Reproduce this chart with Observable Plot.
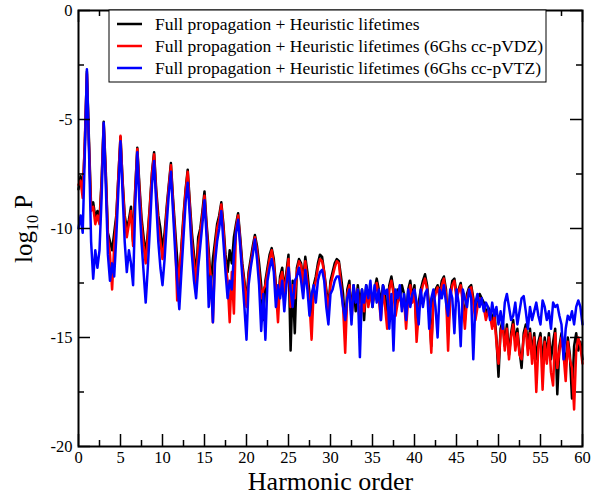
<!DOCTYPE html>
<html><head><meta charset="utf-8">
<script src="https://cdn.jsdelivr.net/npm/d3@7"></script>
<script src="https://cdn.jsdelivr.net/npm/@observablehq/plot@0.6"></script>
<style>body{margin:0;background:#fff}</style>
</head><body><div id="chart"></div>
<script>
// harmonic order sampled every 0.25 from 0 to 60
const step = 0.25;
const seriesNames = [
  "Full propagation + Heuristic lifetimes",
  "Full propagation + Heuristic lifetimes (6Ghs cc-pVDZ)",
  "Full propagation + Heuristic lifetimes (6Ghs cc-pVTZ)"
];
const seriesColors = ["#000000", "#ff0000", "#0000ff"];
const black = [
-8.2,-7.6,-8.4,-6.2,-2.8,-6.0,-9.0,-8.8,-9.5,-9.2,-9.6,-7.8,-5.1,-7.4,-10.2,-10.6,-11.0,-10.2,-9.4,-7.6,-5.8,
-7.8,-9.4,-10.0,-9.6,-9.0,-10.6,-8.2,-6.3,-8.0,-9.5,-10.4,-11.2,-10.2,-8.9,-7.4,-6.5,-8.2,-9.4,-10.0,-11.0,
-10.2,-9.0,-8.0,-7.0,-8.6,-10.0,-11.4,-12.8,-10.8,-9.4,-8.2,-7.3,-8.8,-10.2,-11.2,-12.2,-10.4,-10.0,-9.2,-8.3,
-9.8,-11.0,-12.6,-11.4,-10.6,-9.8,-9.4,-8.8,-9.8,-11.2,-12.0,-11.0,-11.6,-10.4,-9.8,-9.3,-10.4,-11.6,-12.4,-13.4,
-12.0,-11.4,-10.8,-10.3,-10.8,-11.6,-12.6,-14.2,-12.4,-11.8,-11.2,-10.9,-11.4,-12.6,-13.4,-12.2,-11.8,-12.8,-12.0,-11.2,
-15.6,-12.4,-14.8,-11.8,-11.4,-11.6,-12.4,-11.3,-12.0,-13.0,-14.2,-12.6,-12.2,-11.6,-11.2,-11.3,-12.0,-12.8,-13.6,-12.4,
-12.0,-11.6,-11.4,-11.5,-12.2,-13.0,-14.6,-12.8,-12.4,-14.0,-12.6,-13.8,-12.6,-13.4,-12.8,-14.2,-12.6,-13.2,-12.8,-13.6,
-12.8,-12.3,-12.8,-13.4,-12.6,-13.0,-14.0,-12.6,-12.2,-12.8,-13.6,-12.8,-13.2,-12.6,-13.0,-14.0,-12.8,-12.4,-13.2,-12.6,
-14.8,-13.4,-12.8,-12.4,-12.1,-12.6,-13.6,-15.4,-13.2,-12.8,-12.6,-13.0,-12.4,-12.2,-12.8,-14.8,-13.0,-12.4,-12.3,-13.0,
-12.8,-12.5,-13.2,-14.2,-13.0,-12.7,-12.6,-13.2,-14.0,-13.4,-13.0,-13.2,-13.4,-14.0,-13.6,-13.8,-14.2,-13.8,-15.0,-16.8,
-14.6,-14.2,-15.4,-14.4,-15.8,-14.8,-14.2,-15.2,-14.6,-15.6,-16.4,-14.8,-14.4,-15.4,-14.6,-15.8,-14.8,-16.0,-15.2,-14.8,
-16.2,-15.0,-15.8,-14.8,-16.0,-15.2,-14.6,-17.6,-15.4,-14.8,-15.6,-16.2,-15.0,-15.8,-17.8,-15.4,-14.8,-15.6,-15.2,-16.0
];
const red = [
-8.0,-7.8,-8.6,-6.0,-2.9,-6.2,-9.2,-9.0,-9.8,-9.4,-9.8,-7.9,-5.2,-7.6,-10.4,-11.2,-12.8,-10.8,-9.6,-7.6,-5.75,
-7.9,-9.6,-10.4,-9.8,-9.2,-10.8,-8.3,-6.35,-8.2,-9.8,-10.8,-11.6,-10.4,-9.0,-7.5,-6.6,-8.4,-9.8,-10.6,-11.4,
-10.6,-9.2,-8.1,-7.1,-8.8,-10.4,-13.3,-11.8,-11.0,-9.6,-8.3,-7.4,-9.0,-10.6,-11.6,-12.6,-10.8,-10.2,-9.4,-8.5,
-10.0,-11.4,-12.2,-14.3,-11.0,-10.0,-9.6,-8.9,-10.0,-11.6,-12.4,-14.3,-12.0,-13.9,-10.0,-9.4,-10.6,-11.8,-12.6,-13.6,
-12.2,-11.6,-11.0,-10.4,-11.0,-12.0,-13.2,-12.8,-12.6,-12.0,-11.4,-11.0,-11.6,-12.8,-14.3,-12.4,-12.0,-13.0,-12.2,-11.4,
-13.6,-12.6,-13.2,-12.0,-11.5,-11.7,-12.6,-11.5,-12.4,-13.4,-15.1,-12.8,-12.4,-11.8,-11.4,-11.5,-12.0,-13.0,-13.8,-12.6,
-12.2,-11.8,-11.5,-11.6,-12.6,-13.6,-15.7,-13.0,-12.6,-14.2,-12.8,-13.2,-12.8,-14.6,-13.0,-13.8,-12.8,-13.6,-13.0,-13.4,
-13.0,-12.5,-13.2,-14.2,-12.8,-13.6,-14.6,-12.8,-12.4,-13.0,-14.0,-13.4,-13.0,-13.6,-13.2,-14.6,-13.2,-12.6,-13.4,-12.8,
-15.2,-13.8,-13.0,-12.6,-12.3,-12.8,-13.8,-15.7,-13.4,-13.0,-12.7,-13.2,-12.6,-12.3,-13.0,-15.6,-13.2,-12.6,-12.4,-13.2,
-12.9,-12.6,-13.4,-14.6,-13.2,-12.8,-12.7,-13.4,-14.2,-13.6,-13.2,-13.4,-13.6,-14.2,-13.8,-14.0,-14.6,-14.0,-15.2,-16.2,
-14.8,-14.4,-15.6,-14.6,-16.0,-15.0,-14.4,-15.6,-14.8,-15.8,-16.0,-15.0,-14.6,-15.8,-14.8,-16.2,-15.0,-17.5,-15.4,-15.0,
-17.4,-15.2,-16.2,-15.0,-16.6,-17.2,-14.8,-16.4,-15.6,-15.0,-15.8,-17.0,-15.2,-16.0,-16.4,-18.3,-15.6,-15.0,-15.4,-16.2
];
const blue = [
-10.0,-9.4,-10.2,-6.6,-2.7,-6.4,-10.6,-12.3,-11.0,-11.8,-11.0,-8.6,-5.15,-8.0,-11.2,-12.4,-11.6,-12.2,-10.4,-8.2,-6.0,
-8.4,-10.6,-12.0,-11.0,-11.6,-12.6,-9.0,-6.5,-8.8,-10.6,-12.0,-13.4,-11.8,-10.0,-8.0,-6.9,-8.8,-10.6,-11.8,-12.6,
-11.4,-9.8,-8.4,-7.4,-9.2,-11.0,-12.4,-13.7,-12.0,-10.4,-8.8,-7.9,-9.4,-11.2,-12.4,-13.2,-11.8,-10.8,-9.8,-8.7,
-10.4,-13.6,-12.2,-14.3,-11.6,-10.6,-10.0,-9.2,-10.6,-12.0,-13.2,-12.4,-12.8,-11.2,-10.2,-9.6,-10.8,-12.2,-13.6,-15.1,
-12.6,-11.8,-11.2,-10.5,-11.4,-12.6,-14.7,-13.0,-15.1,-12.4,-11.8,-11.4,-12.0,-13.6,-12.6,-13.2,-12.4,-13.8,-12.6,-11.8,
-12.8,-13.6,-12.4,-12.2,-11.8,-12.4,-13.2,-11.9,-12.8,-14.0,-13.0,-12.6,-13.4,-12.4,-12.0,-11.9,-12.4,-13.6,-14.4,-13.0,
-12.8,-12.4,-12.2,-12.2,-12.8,-13.6,-14.2,-13.2,-12.8,-14.4,-12.6,-13.4,-12.8,-15.9,-12.8,-13.4,-12.6,-13.2,-12.4,-13.6,
-12.6,-13.4,-12.8,-14.2,-12.6,-13.0,-12.8,-14.6,-13.0,-15.6,-12.8,-13.2,-12.6,-13.8,-13.0,-14.2,-12.8,-13.6,-13.0,-12.8,
-13.4,-14.4,-12.8,-13.6,-13.0,-12.8,-14.6,-13.2,-12.8,-13.6,-15.0,-12.8,-13.2,-12.6,-13.4,-14.0,-12.8,-13.2,-14.8,-12.8,
-13.4,-15.4,-12.8,-13.2,-13.6,-12.8,-13.2,-16.0,-13.4,-13.0,-13.6,-13.2,-13.8,-13.4,-13.6,-14.2,-13.4,-14.0,-13.6,-14.4,
-13.8,-14.6,-13.4,-13.0,-13.6,-14.2,-14.0,-13.4,-14.4,-13.8,-13.2,-13.1,-13.8,-14.6,-13.6,-14.2,-13.8,-13.4,-14.0,-14.4,
-13.3,-13.6,-14.2,-13.8,-14.6,-13.4,-13.6,-13.5,-14.0,-14.4,-16.0,-14.6,-14.0,-14.2,-13.8,-14.4,-13.6,-13.3,-13.6,-14.4
];
const xMajor = [0,5,10,15,20,25,30,35,40,45,50,55,60];
const xMinor = [2.5,7.5,12.5,17.5,22.5,27.5,32.5,37.5,42.5,47.5,52.5,57.5];
const yMajor = [-20,-15,-10,-5,0];
const yMinor = [-17.5,-12.5,-7.5,-2.5];

const rows = (arr) => arr.map((v, i) => ({h: i * step, v}));
const W = 594, H = 497, mL = 78, mR = 12, mT = 10, mB = 51;
const fw = W - mL - mR, fh = H - mT - mB;
const font = "'Liberation Serif', 'Times New Roman', serif";
const major = 12, minor = 6;

const plot = Plot.plot({
  width: W, height: H,
  marginLeft: mL, marginRight: mR, marginTop: mT, marginBottom: mB,
  x: {domain: [0, 60]},
  y: {domain: [-20, 0]},
  style: {fontFamily: font, background: "#fff", color: "#000"},
  marks: [
    Plot.line(rows(black), {x: "h", y: "v", stroke: seriesColors[0], strokeWidth: 2.5}),
    Plot.line(rows(red), {x: "h", y: "v", stroke: seriesColors[1], strokeWidth: 2.5}),
    Plot.line(rows(blue), {x: "h", y: "v", stroke: seriesColors[2], strokeWidth: 2.5}),
    Plot.tickX(xMajor, {x: d => d, insetTop: fh - major, stroke: "#000", strokeWidth: 1.5}),
    Plot.tickX(xMajor, {x: d => d, insetBottom: fh - major, stroke: "#000", strokeWidth: 1.5}),
    Plot.tickX(xMinor, {x: d => d, insetTop: fh - minor, stroke: "#000", strokeWidth: 1.5}),
    Plot.tickX(xMinor, {x: d => d, insetBottom: fh - minor, stroke: "#000", strokeWidth: 1.5}),
    Plot.tickY(yMajor, {y: d => d, insetRight: fw - major, stroke: "#000", strokeWidth: 1.5}),
    Plot.tickY(yMajor, {y: d => d, insetLeft: fw - major, stroke: "#000", strokeWidth: 1.5}),
    Plot.tickY(yMinor, {y: d => d, insetRight: fw - minor, stroke: "#000", strokeWidth: 1.5}),
    Plot.tickY(yMinor, {y: d => d, insetLeft: fw - minor, stroke: "#000", strokeWidth: 1.5}),
    Plot.frame({stroke: "#000", strokeWidth: 2}),
    Plot.axisX({ticks: xMajor, tickSize: 0, tickPadding: 5, fontSize: 16.5, label: null, tickFormat: d => String(d)}),
    Plot.axisY({ticks: yMajor, tickSize: 0, tickPadding: 6, fontSize: 16.5, label: null, tickFormat: d => String(d)}),
    Plot.text(["Harmonic order"], {frameAnchor: "bottom", lineAnchor: "middle", dy: 35, fontSize: 26, fill: "#000"})
  ]
});
document.getElementById("chart").appendChild(plot);

const svg = d3.select(plot);
// y axis label with subscript
const yl = svg.append("text")
  .attr("transform", "translate(32,229) rotate(-90)")
  .attr("text-anchor", "middle")
  .attr("font-family", font)
  .attr("font-size", 25)
  .attr("fill", "#000");
yl.append("tspan").text("log");
yl.append("tspan").attr("font-size", 16).attr("dy", 6).text("10");
yl.append("tspan").attr("dy", -6).text("\u00a0P");

// legend
const lg = svg.append("g").attr("text-anchor", "start");
lg.append("rect").attr("x", 109).attr("y", 10).attr("width", 437).attr("height", 72)
  .attr("fill", "#fff").attr("stroke", "#000").attr("stroke-width", 1);
seriesNames.forEach((name, i) => {
  const y = 24 + i * 22;
  lg.append("line").attr("x1", 117).attr("x2", 142).attr("y1", y).attr("y2", y)
    .attr("stroke", seriesColors[i]).attr("stroke-width", 2.5);
  lg.append("text").attr("x", 155).attr("y", y + 5.5).attr("text-anchor", "start")
    .attr("font-family", font).attr("font-size", 17.5).attr("fill", "#000").text(name);
});
</script>
</body></html>
